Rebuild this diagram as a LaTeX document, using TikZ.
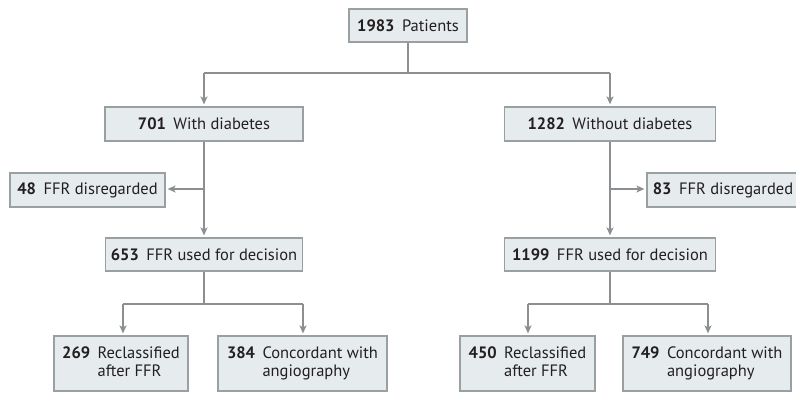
\documentclass[tikz,border=0pt]{standalone}
\usepackage{fontspec}
\setmainfont{PT Sans}
\usetikzlibrary{arrows.meta}
\definecolor{boxfill}{HTML}{E6ECEE}
\definecolor{boxline}{HTML}{9A9FA2}
\definecolor{conn}{HTML}{8C8F92}
\definecolor{txt}{HTML}{231F20}
\tikzset{
  box/.style={draw=boxline, fill=boxfill, line width=1.2pt, inner sep=0pt, text=txt,
    font=\fontsize{16.5}{18}\selectfont},
  arr/.style={draw=conn, line width=1.3pt, shorten >=2pt, -{Stealth[length=8pt,width=7pt,inset=2pt]}},
  ln/.style={draw=conn, line width=1.3pt}
}
\newcommand{\nb}[2]{\textbf{#1}\hspace{0.45em}#2}
\newcommand{\nbb}[3]{\begin{tabular}{@{}l@{\hspace{0.45em}}l@{}}\textbf{#1} & #2\\ & #3\end{tabular}}
\begin{document}
\begin{tikzpicture}[x=1pt,y=-1pt]
\useasboundingbox (0,0) rectangle (796,392);
% nodes
\node[box, minimum width=118, minimum height=33] (top) at (408,25.5) {\nb{1983}{Patients}};
\node[box, minimum width=198, minimum height=34] (dia) at (204,124) {\nb{701}{With diabetes}};
\node[box, minimum width=155, minimum height=34] (dis1) at (87.5,190) {\nb{48}{FFR disregarded}};
\node[box, minimum width=197, minimum height=33] (used1) at (204,254.5) {\nb{653}{FFR used for decision}};
\node[box, minimum width=134, minimum height=55] (r1) at (121,363.5) {\nbb{269}{Reclassified}{after FFR}};
\node[box, minimum width=169, minimum height=55] (c1) at (302.5,363.5) {\nbb{384}{Concordant with}{angiography}};
\node[box, minimum width=211, minimum height=34] (nodia) at (610,124) {\nb{1282}{Without diabetes}};
\node[box, minimum width=152, minimum height=34] (dis2) at (723,190) {\nb{83}{FFR disregarded}};
\node[box, minimum width=211, minimum height=33] (used2) at (610,254.5) {\nb{1199}{FFR used for decision}};
\node[box, minimum width=135, minimum height=55] (r2) at (527.5,363.5) {\nbb{450}{Reclassified}{after FFR}};
\node[box, minimum width=168, minimum height=55] (c2) at (707,363.5) {\nbb{749}{Concordant with}{angiography}};
% coordinates
\coordinate (j0) at (408,73);
\coordinate (jl) at (204,73);
\coordinate (jr) at (610,73);
\coordinate (b1) at (204,189);
\coordinate (b2) at (610,189);
\coordinate (k1) at (204,304);
\coordinate (k1l) at (123,304);
\coordinate (k1r) at (303,304);
\coordinate (k2) at (610,304);
\coordinate (k2l) at (528,304);
\coordinate (k2r) at (708,304);
% connectors
\draw[ln] (top.south) -- (j0);
\draw[ln] (jl) -- (jr);
\draw[arr] (jl) -- (dia.north);
\draw[arr] (jr) -- (nodia.north);
\draw[arr] (dia.south) -- (used1.north -| dia.south);
\draw[arr] (b1) -- (dis1.east |- b1);
\draw[arr] (nodia.south) -- (used2.north -| nodia.south);
\draw[arr] (b2) -- (dis2.west |- b2);
\draw[ln] (used1.south) -- (used1.south |- k1);
\draw[ln] (k1l) -- (k1r);
\draw[arr] (k1l) -- (r1.north -| k1l);
\draw[arr] (k1r) -- (c1.north -| k1r);
\draw[ln] (used2.south) -- (used2.south |- k2);
\draw[ln] (k2l) -- (k2r);
\draw[arr] (k2l) -- (r2.north -| k2l);
\draw[arr] (k2r) -- (c2.north -| k2r);
\end{tikzpicture}
\end{document}
